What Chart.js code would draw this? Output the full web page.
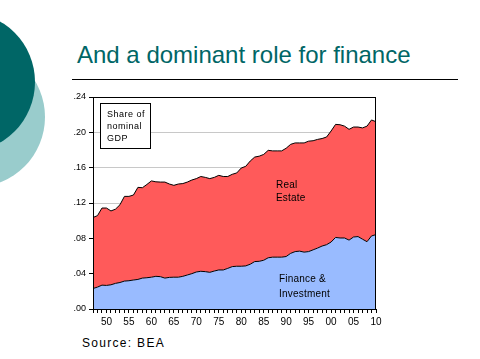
<!DOCTYPE html>
<html>
<head>
<meta charset="utf-8">
<script src="https://cdn.jsdelivr.net/npm/chart.js@4/dist/chart.umd.min.js"></script>
<style>
  html, body { margin: 0; padding: 0; background: #fff; }
  #page { position: relative; width: 480px; height: 359px; overflow: hidden; }
  .circle { position: absolute; border-radius: 50%; }
  #c1 { left: -95px; top: 47px; width: 140px; height: 140px; background: #99cccc; }
  #c2 { left: -105px; top: 12px; width: 140px; height: 140px; background: #006666; }
  #title { position: absolute; left: 77px; top: 41px; font: 24px "Liberation Sans", Arial, sans-serif; color: #006666; white-space: nowrap; }
  #rule { position: absolute; left: 72px; top: 79px; width: 386px; height: 1px; background: #000; }
  #source { position: absolute; left: 82px; top: 336px; font: 12px "Liberation Sans", Arial, sans-serif; letter-spacing: 1.3px; color: #000; }
  #wrap { position: absolute; left: 0; top: 0; width: 480px; height: 359px; }
</style>
</head>
<body>
<div id="page">
  <div class="circle" id="c1"></div>
  <div class="circle" id="c2"></div>
  <div id="title">And a dominant role for finance</div>
  <div id="rule"></div>
  <div id="source">Source: BEA</div>
  <div id="wrap"><canvas id="myChart" width="480" height="359"></canvas></div>
</div>
<script>
let years = [];
for (let y = 1947; y <= 2010; y++) years.push(y);

let finance = [
  .0232,.0248,.0270,.0267,.0274,.0290,.0300,.0316,.0320,.0328,
  .0335,.0350,.0354,.0360,.0370,.0366,.0350,.0358,.0360,.0360,
  .0370,.0385,.0400,.0419,.0427,.0423,.0415,.0430,.0442,.0442,
  .0460,.0480,.0484,.0484,.0488,.0507,.0537,.0540,.0552,.0580,
  .0587,.0587,.0587,.0594,.0630,.0650,.0655,.0644,.0650,.0670,
  .0690,.0713,.0728,.0758,.0810,.0804,.0804,.0780,.0815,.0820,
  .0790,.0762,.0827,.0842
];

let realEstate = [
  .0804,.0809,.0873,.0876,.0836,.0840,.0880,.0959,.0955,.0962,
  .1042,.1023,.1056,.1090,.1070,.1071,.1087,.1057,.1040,.1055,
  .1050,.1052,.1060,.1057,.1073,.1067,.1061,.1060,.1071,.1058,
  .1040,.1045,.1056,.1112,.1127,.1168,.1183,.1190,.1198,.1216,
  .1203,.1203,.1203,.1226,.1234,.1230,.1225,.1236,.1250,.1235,
  .1230,.1217,.1219,.1257,.1280,.1282,.1266,.1254,.1245,.1240,
  .1260,.1308,.1313,.1278
];

let yTicks = [0, .04, .08, .12, .16, .20, .24];

const FONT = '"Liberation Sans", Arial, sans-serif';

const overlay = {
  id: 'overlay',
  afterDatasetsDraw(chart) {
    const ctx = chart.ctx, a = chart.chartArea;
    ctx.save();
    // plot frame
    ctx.strokeStyle = '#000';
    ctx.lineWidth = 1;
    ctx.strokeRect(Math.round(a.left) + 0.5, Math.round(a.top) + 0.5,
                   Math.round(a.right - a.left) - 1, Math.round(a.bottom - a.top));
    // legend box
    ctx.fillStyle = '#fff';
    ctx.fillRect(a.left + 7.5, a.top + 6.5, 50, 45);
    ctx.strokeRect(a.left + 7.5, a.top + 6.5, 50, 45);
    ctx.fillStyle = '#000';
    ctx.font = '9px ' + FONT;
    ctx.textBaseline = 'alphabetic';
    ctx.letterSpacing = '0.5px';
    ctx.fillText('Share of', a.left + 14, a.top + 20);
    ctx.fillText('nominal', a.left + 14, a.top + 32);
    ctx.fillText('GDP', a.left + 14, a.top + 44);
    // series labels
    ctx.font = '10px ' + FONT;
    ctx.letterSpacing = '0.2px';
    ctx.fillText('Real', 276, 188);
    ctx.fillText('Estate', 276, 201);
    ctx.fillText('Finance &', 279, 282);
    ctx.fillText('Investment', 279, 297);
    ctx.restore();
  }
};

let myChart = document.getElementById('myChart').getContext('2d');
let areaChart = new Chart(myChart, {
  type: 'line',
  data: {
    labels: years,
    datasets: [{
      label: 'Finance & Investment',
      data: finance,
      backgroundColor: '#99bbff',
      borderColor: '#000',
      borderWidth: 1,
      pointRadius: 0,
      fill: 'origin'
    },
    {
      label: 'Real Estate',
      data: realEstate,
      backgroundColor: '#ff5a5a',
      borderColor: '#000',
      borderWidth: 1,
      pointRadius: 0,
      fill: '-1'
    }]
  },
  options: {
    responsive: false,
    animation: false,
    layout: { padding: { left: 60, top: 97, right: 104, bottom: 29 } },
    plugins: { legend: { display: false }, tooltip: { enabled: false } },
    scales: {
      x: {
        offset: false,
        grid: { drawOnChartArea: false, tickLength: 4, color: '#000', offset: false },
        border: { color: '#000' },
        afterFit(s) { s.height = 21; },
        ticks: {
          autoSkip: false,
          maxRotation: 0,
          padding: 3,
          color: '#000',
          font: { family: FONT, size: 10 },
          callback(v, i) {
            const yr = years[i];
            return yr % 5 === 0 ? String(yr % 100).padStart(2, '0') : '';
          }
        }
      },
      y: {
        stacked: true,
        min: 0,
        max: 0.24,
        afterFit(s) { s.width = 33; },
        afterBuildTicks(s) { s.ticks = yTicks.map(v => ({ value: v })); },
        grid: { color: '#c8c8c8', tickColor: '#000', tickLength: 4 },
        border: { color: '#000' },
        ticks: {
          padding: 3,
          color: '#000',
          font: { family: FONT, size: 9 },
          callback(v) { return '.' + String(Math.round(v * 100)).padStart(2, '0'); }
        }
      }
    }
  },
  plugins: [overlay]
});
</script>
</body>
</html>
